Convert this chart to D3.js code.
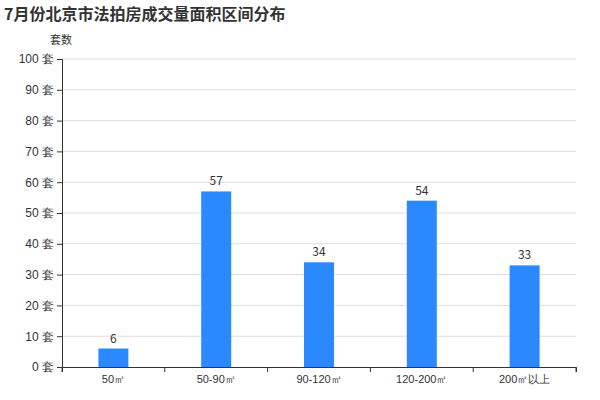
<!DOCTYPE html>
<html><head><meta charset="utf-8">
<script src="https://cdn.jsdelivr.net/npm/d3@7"></script>
<style>body{margin:0;background:#fff;font-family:"Noto Sans CJK SC","Noto Sans",sans-serif}</style>
</head><body><svg id="chart" width="600" height="400"></svg>
<script>
var categories = ["50㎡", "50-90㎡", "90-120㎡", "120-200㎡", "200㎡以上"]
var values = [6, 57, 34, 54, 33]
var yTicks = [0, 10, 20, 30, 40, 50, 60, 70, 80, 90, 100]

var svg = d3.select('#chart')
var m = {left: 62, right: 24, top: 59, bottom: 33}
var w = 600 - m.left - m.right, h = 400 - m.top - m.bottom

svg.append('text').attr('x', 4).attr('y', 20).text('7月份北京市法拍房成交量面积区间分布')
  .style('font-size', '16px').style('font-weight', 'bold').attr('fill', '#333')
svg.append('text').attr('x', 50).attr('y', 44).text('套数').style('font-size', '11px').attr('fill', '#333')

var g = svg.append('g').attr('transform', 'translate(' + m.left + ',' + m.top + ')')
var x = d3.scaleBand().domain(categories).range([0, w])
var y = d3.scaleLinear().domain([0, 100]).range([h, 0])

g.selectAll('.grid').data(yTicks.slice(1)).enter().append('line')
  .attr('x1', 0).attr('x2', w).attr('y1', y).attr('y2', y).attr('stroke', '#ddd')

var ya = g.append('g').call(d3.axisLeft(y).tickValues(yTicks).tickFormat(function(d) { return d + ' 套' }).tickSize(5))
ya.selectAll('text').style('font-size', '12px').attr('fill', '#333')
ya.selectAll('line,path').attr('stroke', '#333')

var xa = g.append('g').attr('transform', 'translate(0,' + h + ')').call(d3.axisBottom(x).tickSize(5))
xa.selectAll('text').style('font-size', '11px').attr('fill', '#333')
xa.selectAll('line,path').attr('stroke', '#333')
xa.selectAll('.tick line').attr('transform', 'translate(' + (-x.bandwidth() / 2) + ',0)')
xa.append('line').attr('x1', w).attr('x2', w).attr('y1', 0).attr('y2', 5).attr('stroke', '#333')

var bw = 30
g.selectAll('.bar').data(values).enter().append('rect')
  .attr('x', function(d, i) { return x(categories[i]) + x.bandwidth() / 2 - bw / 2 })
  .attr('y', y).attr('width', bw).attr('height', function(d) { return h - y(d) })
  .attr('fill', '#2a89ff')
g.selectAll('.lbl').data(values).enter().append('text')
  .attr('x', function(d, i) { return x(categories[i]) + x.bandwidth() / 2 })
  .attr('y', function(d) { return y(d) - 6 }).attr('text-anchor', 'middle')
  .style('font-size', '12px').attr('fill', '#333').text(function(d) { return d })
</script></body></html>
